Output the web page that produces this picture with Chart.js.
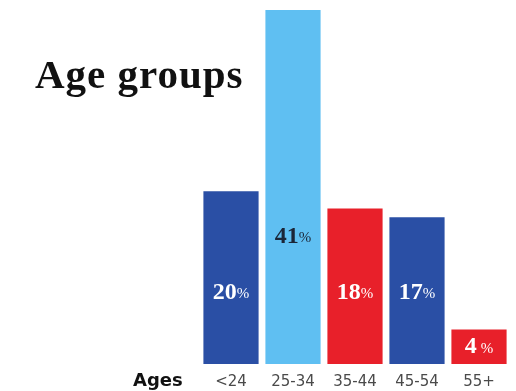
<!DOCTYPE html>
<html lang="en">
<head>
    <meta charset="UTF-8">
    <title>Age groups</title>
    <script src="https://cdn.jsdelivr.net/npm/chart.js"></script>
    <style>
        html, body { margin: 0; padding: 0; background: #fff; }
        #wrap { width: 516px; height: 391px; }
    </style>
</head>
<body>
    <div id="wrap"><canvas id="ageChart"></canvas></div>
    <script>
        const ageLabels = ['<24', '25-34', '35-44', '45-54', '55+'];
        const sharePct = [20, 41, 18, 17, 4];
        const barColors = ['#2a4fa5', '#5fbff2', '#e8202a', '#2a4fa5', '#e8202a'];
        const labelColors = ['#ffffff', '#1b2638', '#ffffff', '#ffffff', '#ffffff'];

        // where the value label sits inside each bar (in % units)
        const labelAt = v => v > 30 ? v * 0.36 : Math.min(v / 2, 8.3);

        const extras = {
            id: 'extras',
            afterDatasetsDraw(chart) {
                const ctx = chart.ctx;
                const y = chart.scales.y;
                const meta = chart.getDatasetMeta(0);
                ctx.save();
                ctx.textBaseline = 'middle';
                meta.data.forEach((bar, i) => {
                    const v = sharePct[i];
                    const cy = y.getPixelForValue(labelAt(v));
                    ctx.font = 'bold 24px "Liberation Serif"';
                    const num = String(v);
                    const nw = ctx.measureText(num).width;
                    ctx.font = '15px "Liberation Serif"';
                    const pw = ctx.measureText('%').width;
                    const gap = v < 10 ? 4 : 0;
                    let x = bar.x - (nw + gap + pw) / 2;
                    ctx.fillStyle = labelColors[i];
                    ctx.textAlign = 'left';
                    ctx.font = 'bold 24px "Liberation Serif"';
                    ctx.fillText(num, x, cy);
                    ctx.font = '15px "Liberation Serif"';
                    ctx.fillText('%', x + nw + gap, cy + 2);
                });

                // title and axis name
                ctx.fillStyle = '#111';
                ctx.textAlign = 'left';
                ctx.textBaseline = 'alphabetic';
                ctx.font = 'bold 41px "Liberation Serif"';
                ctx.letterSpacing = '1px';
                ctx.fillText('Age groups', 35, 88);
                ctx.letterSpacing = '0px';
                ctx.font = 'bold 18px "DejaVu Sans"';
                ctx.fillText('Ages', 133, 386);
                ctx.restore();
            }
        };

        new Chart(document.getElementById('ageChart'), {
            type: 'bar',
            data: {
                labels: ageLabels,
                datasets: [{
                    data: sharePct,
                    backgroundColor: barColors,
                    barPercentage: 0.89,
                    categoryPercentage: 1
                }]
            },
            options: {
                responsive: true,
                maintainAspectRatio: false,
                animation: false,
                layout: { padding: { left: 200, right: 6, top: 10, bottom: -9 } },
                plugins: { legend: { display: false }, tooltip: { enabled: false } },
                scales: {
                    x: {
                        grid: { display: false, drawTicks: false },
                        border: { display: false },
                        ticks: { color: '#4a4a4a', font: { family: 'DejaVu Sans', size: 15 }, padding: 9 }
                    },
                    y: { display: false, min: 0, max: 41 }
                }
            },
            plugins: [extras]
        });
    </script>
</body>
</html>
